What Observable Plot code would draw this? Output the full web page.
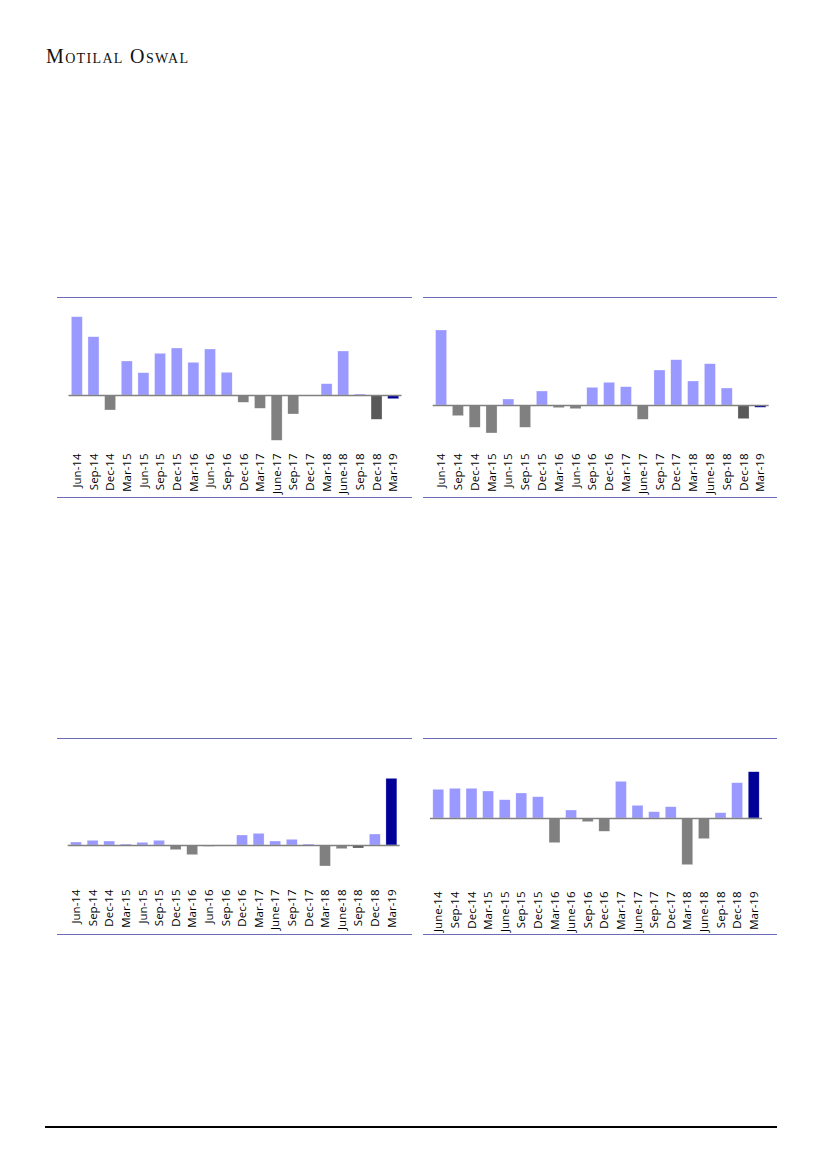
<!DOCTYPE html>
<html>
<head>
<meta charset="utf-8">
<script src="https://cdn.jsdelivr.net/npm/d3@7"></script>
<script src="https://cdn.jsdelivr.net/npm/@observablehq/plot@0.6"></script>
<style>
  html, body { margin: 0; padding: 0; background: #fff; }
  #page { position: relative; width: 827px; height: 1169px; overflow: hidden; background: #fff; }
  .brand { position: absolute; left: 46px; top: 46px; font-family: "Liberation Serif", "DejaVu Serif", serif;
           font-size: 20px; line-height: 20px; font-variant: small-caps; letter-spacing: 1.35px; color: #111; white-space: nowrap; }
  .chart { position: absolute; }
  .rule { position: absolute; height: 1px; background: #6b6bb8; }
  .footer { position: absolute; left: 45px; top: 1126px; width: 732px; height: 1.5px; background: #000; }
</style>
</head>
<body>
<div id="page">
  <div class="brand">Motilal Oswal</div>
  <div class="footer"></div>
</div>
<script>
// ---- data ----
const quartersA = ["Jun-14","Sep-14","Dec-14","Mar-15","Jun-15","Sep-15","Dec-15","Mar-16","Jun-16","Sep-16","Dec-16","Mar-17","June-17","Sep-17","Dec-17","Mar-18","June-18","Sep-18","Dec-18","Mar-19"];
const quartersB = ["June-14","Sep-14","Dec-14","Mar-15","June-15","Sep-15","Dec-15","Mar-16","June-16","Sep-16","Dec-16","Mar-17","June-17","Sep-17","Dec-17","Mar-18","June-18","Sep-18","Dec-18","Mar-19"];

const values1 = [78.3, 58.3, -15, 34, 22.3, 41.7, 47, 32.7, 46, 22.7, -7.3, -13.3, -45.3, -19, 0, 11.3, 44, 1, -24.3, -3.7];
const values2 = [75, -10.7, -22.3, -28, 6, -22.3, 14, -2.7, -3.7, 17.7, 22.7, 18.3, -14.3, 35, 45.3, 24, 41.3, 17, -13.7, -2.3];
const values3 = [3, 4.7, 4, 1, 2.7, 4.7, -4.7, -9.7, -1.3, 0, 10, 11.7, 4, 5.7, 1, -21, -3.7, -3, 11, 66.7];
const values4 = [28.7, 29.7, 29.7, 27, 18.3, 25, 21.3, -24.7, 8, -3.7, -13.3, 36.7, 12.7, 6.3, 11.3, -46.7, -20.7, 5.3, 35.3, 46.3];

const latest1 = ["Dec-18"];
const latest2 = ["Dec-18"];
const latest3 = ["Sep-18"];
const latest4 = [];
const current = "Mar-19";

// ---- drawing ----
const page = document.getElementById("page");

function addRule(left, top, width) {
  const r = document.createElement("div");
  r.className = "rule";
  r.style.left = left + "px";
  r.style.top = top + "px";
  r.style.width = width + "px";
  page.appendChild(r);
}

function makeChart(cfg) {
  const data = cfg.labels.map((q, i) => ({q, v: cfg.values[i]}));
  const darkSet = new Set(cfg.dark);
  const fillOf = d => d.q === current ? "#000099"
                    : darkSet.has(d.q) ? "#595959"
                    : d.v >= 0 ? "#9999ff" : "#808080";
  const svg = Plot.plot({
    width: cfg.width,
    height: cfg.height,
    marginLeft: cfg.ml,
    marginRight: cfg.mr,
    marginTop: 0,
    marginBottom: cfg.mb,
    style: {fontFamily: "'Open Sans', 'Noto Sans', sans-serif", fontSize: "11.5px", color: "#000", background: "transparent", overflow: "visible"},
    x: {domain: cfg.labels, paddingInner: 0.34, paddingOuter: 0.17, round: false, label: null},
    y: {domain: cfg.domain, axis: null},
    color: {type: "identity"},
    marks: [
      Plot.barY(data, {x: "q", y: "v", fill: fillOf, stroke: "#ffffff", strokeOpacity: 0.6, strokeWidth: 0.5}),
      Plot.ruleY([0], {stroke: "#808080", strokeWidth: 1.5}),
      Plot.axisX({tickSize: 0, tickPadding: 3, tickRotate: -90, label: null, fontSize: 11.5})
    ]
  });
  const box = document.createElement("div");
  box.className = "chart";
  box.style.left = cfg.left + "px";
  box.style.top = cfg.top + "px";
  box.style.width = cfg.width + "px";
  box.style.height = cfg.height + "px";
  box.appendChild(svg);
  page.appendChild(box);
  addRule(cfg.left, cfg.top, cfg.width);
  addRule(cfg.left, cfg.top + cfg.height, cfg.width);
}

makeChart({labels: quartersA, values: values1, dark: latest1, left: 57, top: 297, width: 355, height: 200,
           ml: 11.5, mr: 10.5, mb: 47, domain: [-55, 98]});
makeChart({labels: quartersA, values: values2, dark: latest2, left: 423, top: 297, width: 354, height: 200,
           ml: 9.7, mr: 8.3, mb: 47, domain: [-45, 108]});
makeChart({labels: quartersA, values: values3, dark: latest3, left: 57, top: 738, width: 355, height: 196,
           ml: 10.7, mr: 12.3, mb: 48, domain: [-41, 107]});
makeChart({labels: quartersB, values: values4, dark: latest4, left: 423, top: 738, width: 354, height: 196,
           ml: 7, mr: 15, mb: 46, domain: [-70, 80]});
</script>
</body>
</html>
